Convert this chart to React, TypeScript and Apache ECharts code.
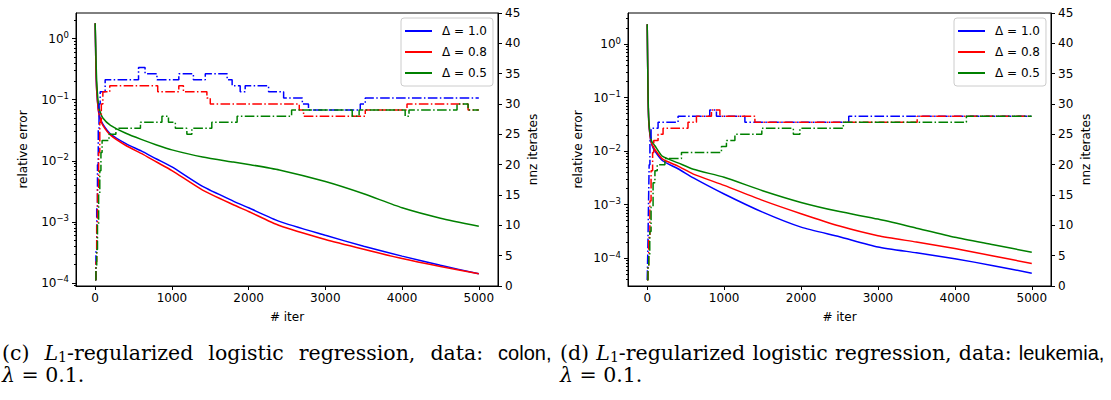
import React, { useEffect, useRef } from "react";
import * as echarts from "echarts";

const BLUE = "#0000ff";
const RED = "#ff0000";
const GREEN = "#008000";
const COLORS = [BLUE, RED, GREEN];
const SANS = "DejaVu Sans";

const legendNames = ["Δ = 1.0", "Δ = 0.8", "Δ = 0.5"];
const xTicks = [0, 1000, 2000, 3000, 4000, 5000];
const logTicks = [-4, -3, -2, -1, 0];

// ---------- (c) colon : relative error ----------
const colonIter = [0, 10, 20, 40, 60, 100, 200, 400, 600, 800, 1000, 1400, 1800, 2000, 2400, 3000, 3500, 4000, 4500, 5000];
const colonErrD10 = [1.78, 0.316, 0.141, 0.0708, 0.0525, 0.0398, 0.0275, 0.0191, 0.0145, 0.0107, 0.00794, 0.0038, 0.00219, 0.0017, 0.00102, 0.000603, 0.000398, 0.000275, 0.000195, 0.000141];
const colonErrD08 = [1.78, 0.316, 0.141, 0.0692, 0.0501, 0.038, 0.0263, 0.0178, 0.0132, 0.00955, 0.00692, 0.00331, 0.00191, 0.00148, 0.00087, 0.000513, 0.000355, 0.000251, 0.000186, 0.000141];
const colonErrD05 = [1.78, 0.501, 0.2, 0.0891, 0.0661, 0.0501, 0.038, 0.0282, 0.0224, 0.0182, 0.0151, 0.0115, 0.00955, 0.00871, 0.00708, 0.00457, 0.00288, 0.0017, 0.00115, 0.000851];

// ---------- (c) colon : nnz iterates (change points) ----------
const colonNnzD10: [number, number][] = [[0, 1], [10, 6], [20, 13], [30, 20], [40, 26], [50, 30], [65, 32], [130, 34], [565, 36], [650, 35], [805, 34], [1090, 35], [1280, 34], [1435, 35], [1720, 34], [1785, 33], [1890, 32], [1955, 33], [2260, 32], [2456, 31], [2700, 30], [2780, 29], [3455, 30], [3520, 31], [5000, 31]];
const colonNnzD08: [number, number][] = [[0, 1], [10, 4], [20, 10], [30, 16], [45, 22], [60, 27], [80, 30], [100, 32], [190, 33], [815, 32], [1090, 33], [1150, 32], [1456, 31], [1500, 30], [2660, 29], [2716, 28], [3520, 29], [4064, 30], [4860, 29], [5000, 29]];
const colonNnzD05: [number, number][] = [[0, 1], [10, 3], [20, 6], [30, 10], [45, 15], [60, 19], [75, 22], [90, 24], [180, 25], [270, 26], [590, 27], [870, 28], [955, 27], [1045, 26], [1195, 25], [1260, 26], [1520, 27], [1850, 28], [2560, 29], [3350, 28], [3440, 29], [4040, 28], [4090, 29], [4716, 30], [4860, 29], [5000, 29]];

// ---------- (d) leukemia : relative error ----------
const leukIter = [0, 10, 20, 40, 60, 100, 200, 400, 600, 1000, 1500, 2000, 2500, 3000, 3500, 4000, 4500, 5000];
const leukErrD10 = [2.34, 0.126, 0.0355, 0.0178, 0.0132, 0.01, 0.0066, 0.00468, 0.00316, 0.00158, 0.000724, 0.00038, 0.000251, 0.000162, 0.000126, 0.0000977, 0.0000724, 0.0000525];
const leukErrD08 = [2.34, 0.126, 0.0355, 0.0178, 0.0135, 0.0107, 0.00708, 0.00525, 0.00372, 0.00229, 0.0012, 0.000676, 0.000398, 0.000263, 0.0002, 0.000151, 0.00011, 0.0000794];
const leukErrD05 = [2.34, 0.141, 0.0398, 0.02, 0.0151, 0.0126, 0.00794, 0.00603, 0.00457, 0.00324, 0.00182, 0.0011, 0.000741, 0.000537, 0.000363, 0.000245, 0.000178, 0.000129];

// ---------- (d) leukemia : nnz iterates (change points) ----------
const leukNnzD10: [number, number][] = [[0, 1], [8, 6], [16, 13], [25, 20], [35, 24], [50, 26], [141, 27], [401, 28], [813, 29], [900, 28], [1270, 27], [2620, 28], [5000, 28]];
const leukNnzD08: [number, number][] = [[0, 1], [10, 3], [20, 8], [35, 14], [50, 19], [70, 22], [85, 24], [141, 25], [206, 26], [530, 27], [640, 28], [835, 29], [945, 28], [1400, 27], [3510, 28], [5000, 28]];
const leukNnzD05: [number, number][] = [[0, 1], [10, 3], [20, 5], [33, 9], [50, 13], [76, 17], [100, 19], [130, 20], [230, 21], [445, 22], [965, 23], [1030, 24], [1140, 25], [1490, 26], [1900, 25], [1985, 26], [2550, 27], [4150, 28], [5000, 28]];

const panels = [
  {
    iter: colonIter,
    err: [colonErrD10, colonErrD08, colonErrD05],
    nnz: [colonNnzD10, colonNnzD08, colonNnzD05],
    logMin: -4.05,
    logMax: 0.42,
    grid: { left: 76, top: 13, width: 422, height: 273 },
    legendLeft: 401,
    leftNameGap: 47,
  },
  {
    iter: leukIter,
    err: [leukErrD10, leukErrD08, leukErrD05],
    nnz: [leukNnzD10, leukNnzD08, leukNnzD05],
    logMin: -4.52,
    logMax: 0.58,
    grid: { left: 628, top: 13, width: 423, height: 273 },
    legendLeft: 954,
    leftNameGap: 44,
  },
];

function minorTicks(min: number, max: number) {
  const out: number[] = [];
  for (let k = -7; k <= 2; k++) {
    for (let m = 2; m <= 9; m++) {
      const v = Math.log10(m) + k;
      if (v > min && v < max) out.push(v);
    }
  }
  return out;
}

const supFormatter = (v: number) => {
  const e = Math.round(v);
  const s = e < 0 ? "\u2212" + Math.abs(e) : String(e);
  return `{b|10}{s|${s}}`;
};

function buildOption() {
  const grids: any[] = [];
  const xAxes: any[] = [];
  const yAxes: any[] = [];
  const series: any[] = [];
  const legends: any[] = [];
  const axisText = { color: "#000", fontFamily: SANS, fontSize: 12 };

  panels.forEach((p, pi) => {
    grids.push({ ...p.grid, show: true, borderColor: "#000", borderWidth: 1, backgroundColor: "transparent" });
    xAxes.push({
      type: "value",
      gridIndex: pi,
      min: -250,
      max: 5250,
      name: "# iter",
      nameLocation: "middle",
      nameGap: 25,
      nameTextStyle: axisText,
      axisLine: { show: true, onZero: false, lineStyle: { color: "#000", width: 1 } },
      axisTick: { show: true, customValues: xTicks, length: 4, lineStyle: { color: "#000" } },
      axisLabel: { customValues: xTicks, margin: 6, formatter: (v: number) => String(v), ...axisText },
      splitLine: { show: false },
    });
    yAxes.push({
      type: "value",
      gridIndex: pi,
      position: "left",
      min: p.logMin,
      max: p.logMax,
      name: "relative error",
      nameLocation: "middle",
      nameGap: p.leftNameGap,
      nameRotate: 90,
      nameTextStyle: axisText,
      axisLine: { show: true, onZero: false, lineStyle: { color: "#000", width: 1 } },
      axisTick: { show: true, customValues: logTicks, length: 4, lineStyle: { color: "#000" } },
      axisLabel: {
        customValues: logTicks,
        margin: 7,
        formatter: supFormatter,
        rich: {
          b: { fontFamily: SANS, fontSize: 12, color: "#000", lineHeight: 16 },
          s: { fontFamily: SANS, fontSize: 8.5, color: "#000", verticalAlign: "top", lineHeight: 10 },
        },
      },
      splitLine: { show: false },
    });
    yAxes.push({
      type: "value",
      gridIndex: pi,
      position: "left",
      min: p.logMin,
      max: p.logMax,
      axisLine: { show: false, onZero: false },
      axisTick: { show: true, customValues: minorTicks(p.logMin, p.logMax), length: 2, lineStyle: { color: "#000" } },
      axisLabel: { show: false },
      splitLine: { show: false },
    });
    yAxes.push({
      type: "value",
      gridIndex: pi,
      position: "right",
      min: 0,
      max: 45,
      interval: 5,
      name: "nnz iterates",
      nameLocation: "middle",
      nameGap: 29,
      nameRotate: 90,
      nameTextStyle: axisText,
      axisLine: { show: true, onZero: false, lineStyle: { color: "#000", width: 1 } },
      axisTick: { show: true, length: 4, lineStyle: { color: "#000" } },
      axisLabel: { margin: 7, ...axisText },
      splitLine: { show: false },
    });

    p.err.forEach((vals, di) => {
      series.push({
        type: "line",
        name: legendNames[di],
        xAxisIndex: pi,
        yAxisIndex: pi * 3,
        data: p.iter.map((x, i) => [x, Math.log10(vals[i])]),
        symbol: "none",
        smooth: 0.2,
        lineStyle: { color: COLORS[di], width: 1.5 },
        itemStyle: { color: COLORS[di] },
        z: 2,
      });
    });
    p.nnz.forEach((pts, di) => {
      series.push({
        type: "line",
        name: "nnz " + legendNames[di],
        xAxisIndex: pi,
        yAxisIndex: pi * 3 + 2,
        step: "end",
        data: pts,
        symbol: "none",
        lineStyle: { color: COLORS[di], width: 1.5, type: [9.6, 2.4, 1.5, 2.4] },
        itemStyle: { color: COLORS[di] },
        z: 3,
      });
    });

    legends.push({
      data: legendNames,
      orient: "vertical",
      left: p.legendLeft,
      top: 18,
      padding: [6, 6, 6, 4],
      itemGap: 7,
      itemWidth: 27,
      itemHeight: 2,
      icon: "rect",
      backgroundColor: "rgba(255,255,255,0.8)",
      borderColor: "#cccccc",
      borderWidth: 1,
      borderRadius: 3,
      selectedMode: false,
      textStyle: { color: "#000", fontFamily: SANS, fontSize: 12, lineHeight: 14, padding: [0, 0, 0, 5] },
    });
  });

  const serif = "DejaVu Serif";
  const FS = 20.5;
  const baseRich = {
    n: { fontFamily: serif, fontSize: FS, color: "#000" },
    i: { fontFamily: serif, fontSize: FS, fontStyle: "italic", color: "#000" },
    sub: { fontFamily: serif, fontSize: 14, color: "#000", verticalAlign: "bottom", padding: [7, 0, 0, 0] },
    sf: { fontFamily: "Liberation Sans", fontSize: 20, color: "#000" },
  };
  const caption = (x: number, letter: string, data: string, spaceW: number) => {
    const rich = { ...baseRich, sp: { fontFamily: serif, fontSize: FS, width: spaceW } };
    return [
      {
        type: "text",
        x,
        y: 353,
        style: {
          text:
            `{n|(${letter})}{sp| }{i|L}{sub|1}{n|-regularized}{sp| }{n|logistic}{sp| }` +
            `{n|regression,}{sp| }{n|data:}{sp| }{sf|${data},}`,
          rich,
          verticalAlign: "middle",
        },
      },
      {
        type: "text",
        x,
        y: 375,
        style: {
          text: `{i|λ}{n| = 0.1.}`,
          rich,
          verticalAlign: "middle",
        },
      },
    ];
  };

  return {
    animation: false,
    backgroundColor: "#ffffff",
    grid: grids,
    xAxis: xAxes,
    yAxis: yAxes,
    series,
    legend: legends,
    graphic: [...caption(2, "c", "colon", 15), ...caption(560, "d", "leukemia", 7.2)],
  };
}

export default function App() {
  const ref = useRef<HTMLDivElement>(null);
  useEffect(() => {
    if (!ref.current) return;
    const chart = echarts.init(ref.current, null, { renderer: "svg" });
    chart.setOption(buildOption() as any);
    return () => chart.dispose();
  }, []);
  return (
    <div
      ref={ref}
      style={{ position: "fixed", left: 0, top: 0, width: 1111, height: 400, background: "#fff" }}
    />
  );
}
